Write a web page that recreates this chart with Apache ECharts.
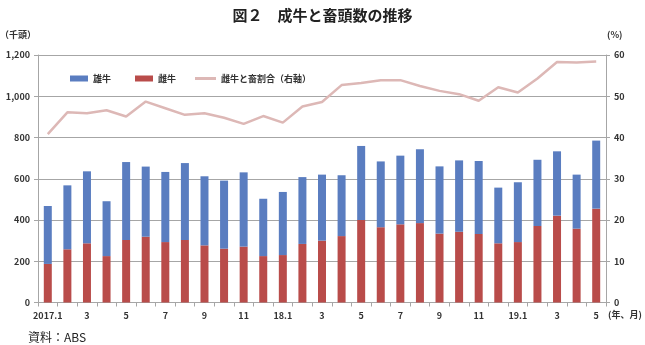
<!DOCTYPE html>
<html>
<head>
<meta charset="utf-8">
<script src="https://cdn.jsdelivr.net/npm/echarts@6/dist/echarts.min.js"></script>
<style>
  html, body { margin: 0; padding: 0; background: #fff; }
  #chart { width: 645px; height: 345px; }
</style>
</head>
<body>
<div id="chart"></div>
<script>
// Months, 2017.1 – 2019.5
const months = ['2017.1','2','3','4','5','6','7','8','9','10','11','12',
                '18.1','2','3','4','5','6','7','8','9','10','11','12',
                '19.1','2','3','4','5'];
// Female cattle slaughtered (thousand head)
const cows = [187,258,287,225,303,319,293,303,277,261,271,225,
              230,284,300,322,400,365,379,385,334,343,332,287,
              293,371,421,358,455];
// Male cattle slaughtered (thousand head)
const bulls = [281,310,349,266,378,340,340,373,335,330,360,278,
               306,324,320,295,359,319,333,358,326,346,354,270,
               290,321,312,262,330];
// Female share of slaughter (%, right axis)
const cowShare = [40.8,46.1,45.9,46.6,45.1,48.7,47.1,45.5,45.9,44.8,43.3,45.2,
                  43.6,47.5,48.6,52.7,53.2,53.9,53.9,52.5,51.3,50.5,48.9,52.2,
                  50.9,54.3,58.3,58.2,58.4];

const FONT = '"Noto Sans CJK JP", "Noto Sans", sans-serif';
const TXT = '#333';
const GRIDC = '#a6a6a6';
const LEGEND_TEXT = { fontFamily: FONT, fontSize: 9, fontWeight: 'bold', color: TXT };

const chart = echarts.init(document.getElementById('chart'), null, { renderer: 'canvas' });
chart.setOption({
  animation: false,
  backgroundColor: '#fff',
  textStyle: { fontFamily: FONT },
  title: {
    text: '図２　成牛と畜頭数の推移',
    left: 'center',
    top: 3,
    textStyle: { fontFamily: FONT, fontSize: 15, fontWeight: 'bold', color: '#222' }
  },
  graphic: [
    { type: 'text', left: 0, top: 30, style: { text: '（千頭）', font: 'bold 9px ' + FONT, fill: TXT } },
    { type: 'text', left: 607, top: 30, style: { text: '(%)', font: 'bold 9px ' + FONT, fill: TXT } },
    { type: 'text', left: 608, top: 310, style: { text: '(年、月)', font: 'bold 9px ' + FONT, fill: TXT } },
    { type: 'text', left: 28, top: 331, style: { text: '資料：ABS', font: '12px ' + FONT, fill: '#222' } }
  ],
  legend: [
    {
      left: 65, top: 69, itemWidth: 18, itemHeight: 6, itemGap: 24,
      textStyle: LEGEND_TEXT,
      data: [{ name: '雄牛', icon: 'rect' }, { name: '雌牛', icon: 'rect' }]
    },
    {
      left: 190, top: 69, itemWidth: 21, itemHeight: 3,
      textStyle: LEGEND_TEXT,
      data: [{ name: '雌牛と畜割合（右軸）', icon: 'rect' }]
    }
  ],
  grid: { left: 38, right: 39, top: 55, bottom: 42.5, containLabel: false },
  xAxis: {
    type: 'category',
    data: months,
    boundaryGap: true,
    axisLine: { lineStyle: { color: GRIDC, width: 1 } },
    axisTick: { show: true, interval: 0, length: 4, lineStyle: { color: GRIDC } },
    axisLabel: { interval: 1, margin: 9, fontFamily: FONT, fontSize: 9, fontWeight: 'bold', color: TXT }
  },
  yAxis: [
    {
      type: 'value', min: 0, max: 1200, interval: 200,
      axisLine: { show: true, lineStyle: { color: GRIDC } },
      axisTick: { show: true, length: 4, lineStyle: { color: GRIDC } },
      splitLine: { lineStyle: { color: GRIDC, width: 1 } },
      axisLabel: {
        margin: 8, fontFamily: FONT, fontSize: 9, fontWeight: 'bold', color: TXT,
        formatter: v => v.toLocaleString('en-US')
      }
    },
    {
      type: 'value', min: 0, max: 60, interval: 10,
      axisLine: { show: true, lineStyle: { color: GRIDC } },
      axisTick: { show: true, length: 4, lineStyle: { color: GRIDC } },
      splitLine: { show: false },
      axisLabel: { margin: 8, fontFamily: FONT, fontSize: 9, fontWeight: 'bold', color: TXT }
    }
  ],
  series: [
    {
      name: '雌牛', type: 'bar', stack: 'total', data: cows,
      barWidth: 8,
      itemStyle: { color: '#b94c4a' }
    },
    {
      name: '雄牛', type: 'bar', stack: 'total', data: bulls,
      barWidth: 8,
      itemStyle: { color: '#5a7dc0' }
    },
    {
      name: '雌牛と畜割合（右軸）', type: 'line', yAxisIndex: 1, data: cowShare,
      symbol: 'none',
      lineStyle: { color: '#ddb8b6', width: 2.5 },
      itemStyle: { color: '#ddb8b6' },
      z: 5
    }
  ]
});
</script>
</body>
</html>
